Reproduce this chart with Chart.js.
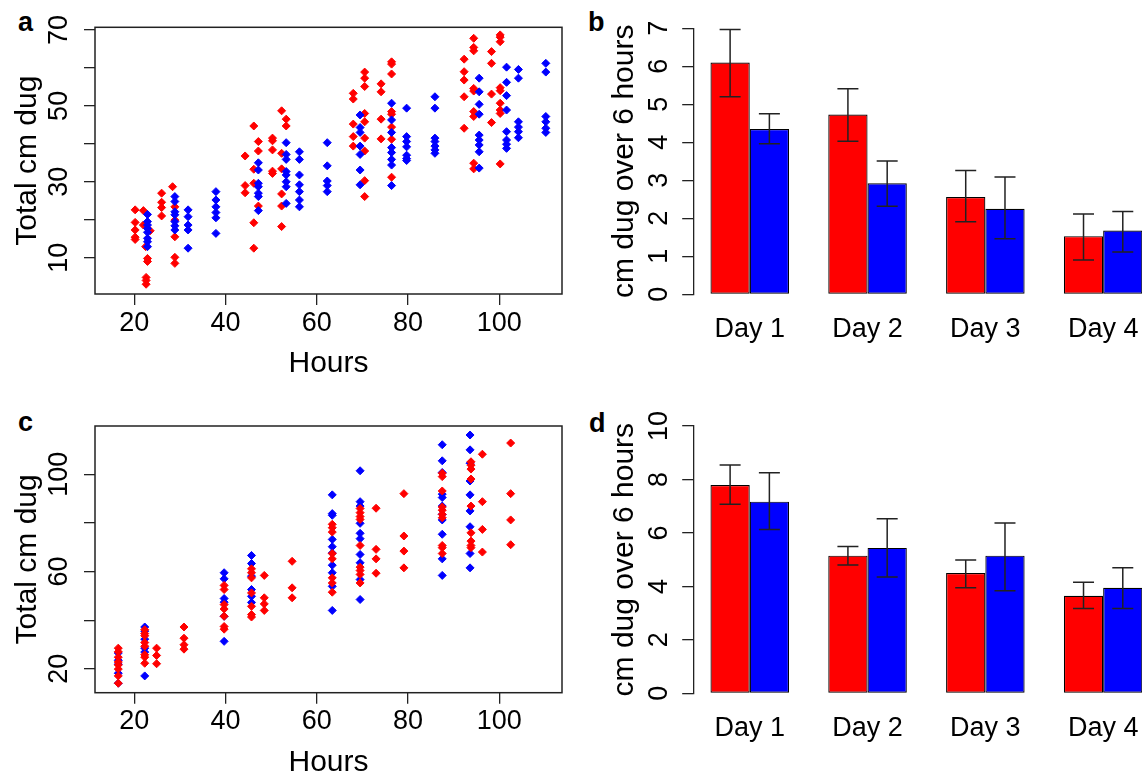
<!DOCTYPE html>
<html>
<head>
<meta charset="utf-8">
<title>Digging rates</title>
<script src="https://cdn.jsdelivr.net/npm/chart.js@4.4.1/dist/chart.umd.min.js"></script>
<style>
  html, body { margin: 0; padding: 0; background: #fff; overflow: hidden; }
  body { width: 1142px; height: 778px; position: relative; }
  canvas { position: absolute; }
  .tag { position: absolute; font: bold 27px "Liberation Sans", Arial, sans-serif; line-height: 27px; color: #000; }
</style>
</head>
<body>
<div class="tag" style="left:18px;top:9px">a</div>
<div class="tag" style="left:588px;top:9px">b</div>
<div class="tag" style="left:18px;top:409px">c</div>
<div class="tag" style="left:589px;top:410px">d</div>
<canvas id="chartA" width="580" height="389" style="left:0;top:0"></canvas>
<canvas id="chartB" width="600" height="389" style="left:580px;top:0"></canvas>
<canvas id="chartC" width="580" height="389" style="left:0;top:389px"></canvas>
<canvas id="chartD" width="600" height="389" style="left:580px;top:389px"></canvas>
<script>
const RED = '#ff0000';
const BLUE = '#0000ff';
const INK = '#222';

// panel a: cumulative digging, red group
const aRedHours = [
  20.2, 20.2, 20.2, 20.2, 20.2, 22.0, 22.0, 22.5, 22.9, 22.9, 22.6, 22.6, 22.6, 23.5,
  26.0, 26.0, 26.0, 26.0, 28.4, 28.9, 28.9, 28.9, 28.9, 28.9,
  44.3, 44.3, 44.3, 46.2, 46.2, 46.2, 46.2, 46.2, 47.2, 47.2, 47.2,
  50.3, 50.3, 50.3, 50.3, 50.3, 52.3, 52.3, 52.3, 52.3, 52.3, 52.3, 53.3, 53.3,
  68.0, 68.0, 68.0, 68.0, 68.0, 70.5, 70.5, 70.5, 70.5, 70.5, 70.5, 70.5, 70.5, 70.5,
  74.1, 74.1, 74.1, 74.1, 76.4, 76.4, 76.4, 76.4, 76.4, 76.4, 76.4, 76.4,
  92.3, 92.3, 92.3, 92.3, 92.3, 94.4, 94.4, 94.4, 94.4, 94.4, 94.4, 94.4, 94.4, 94.4,
  98.3, 98.3, 98.3, 98.3, 100.2, 100.2, 100.2, 100.2, 100.2, 100.2, 100.2, 100.2, 100.2
];
const aRedDug = [
  22.6, 19.3, 17.3, 15.4, 14.8, 22.4, 18.6, 12.9, 9.8, 9.0, 4.8, 4.0, 3.0, 17.1,
  27.0, 24.6, 23.2, 21.0, 28.7, 23.4, 19.9, 15.5, 10.1, 8.5,
  36.8, 29.0, 27.1, 44.7, 33.3, 29.6, 19.2, 12.5, 40.6, 38.1, 23.6,
  41.5, 40.8, 38.4, 32.8, 32.2, 48.7, 37.5, 33.4, 26.8, 23.6, 18.2, 46.5, 44.7,
  53.3, 51.8, 45.2, 41.9, 39.4, 58.9, 57.3, 55.1, 48.0, 45.8, 41.5, 38.1, 30.3, 26.1,
  55.8, 53.7, 46.5, 41.3, 61.6, 61.0, 58.4, 48.5, 47.8, 44.4, 41.2, 31.2,
  62.3, 59.0, 56.8, 52.4, 44.1, 67.8, 65.4, 64.5, 54.6, 53.9, 48.5, 47.2, 34.9, 33.4,
  64.3, 61.2, 53.1, 45.6, 68.7, 68.1, 66.9, 54.8, 54.0, 50.7, 48.9, 48.0, 34.7
];

// panel a: cumulative digging, blue group
const aBlueHours = [
  22.9, 22.9, 22.9, 22.9, 22.9, 22.9, 22.9, 22.9,
  28.9, 28.9, 28.9, 28.9, 28.9, 28.9, 28.9,
  31.8, 31.8, 31.8, 31.8, 31.8, 37.9, 37.9, 37.9, 37.9, 37.9, 37.9,
  47.2, 47.2, 47.2, 47.2, 47.2, 47.2, 47.2,
  53.3, 53.3, 53.3, 53.3, 53.3, 53.3, 53.3, 53.3,
  56.2, 56.2, 56.2, 56.2, 56.2, 56.2, 56.2, 62.3, 62.3, 62.3, 62.3, 62.3,
  69.5, 69.5, 69.5, 69.5, 69.5, 69.5, 69.5,
  76.4, 76.4, 76.4, 76.4, 76.4, 76.4, 76.4, 76.4,
  79.7, 79.7, 79.7, 79.7, 79.7, 79.7, 79.7, 85.9, 85.9, 85.9, 85.9, 85.9, 85.9, 85.9,
  95.6, 95.6, 95.6, 95.6, 95.6, 95.6, 95.6, 95.6, 95.6,
  101.6, 101.6, 101.6, 101.6, 101.6, 101.6, 101.6, 101.6,
  104.2, 104.2, 104.2, 104.2, 104.2, 104.2, 110.2, 110.2, 110.2, 110.2, 110.2, 110.2
];
const aBlueDug = [
  21.4, 19.5, 18.6, 17.7, 16.7, 15.1, 14.2, 12.9,
  26.1, 24.8, 22.1, 21.3, 19.5, 18.4, 17.3,
  22.6, 20.8, 18.6, 17.3, 12.5, 27.4, 25.2, 23.4, 21.9, 20.5, 16.4,
  35.0, 33.1, 29.6, 28.7, 27.0, 26.1, 22.4,
  40.3, 37.2, 35.9, 32.7, 31.8, 30.0, 28.7, 24.3,
  37.9, 35.9, 31.8, 29.2, 27.4, 25.2, 23.4, 40.3, 34.2, 30.2, 29.0, 27.4,
  47.6, 44.3, 43.0, 39.4, 37.2, 33.1, 29.2,
  50.7, 46.3, 43.0, 39.0, 37.7, 35.9, 34.4, 29.0,
  49.4, 41.9, 40.6, 39.2, 37.0, 36.1, 35.6, 52.4, 49.4, 41.5, 40.6, 39.4, 38.4, 37.5,
  57.3, 53.7, 50.4, 47.8, 42.3, 41.0, 39.7, 37.9, 33.6,
  60.2, 56.2, 52.7, 48.9, 43.2, 41.0, 39.9, 38.8,
  59.6, 57.3, 45.8, 44.4, 43.2, 41.6, 61.2, 58.9, 47.2, 45.8, 44.1, 43.0
];

// panel c: cumulative digging, red group
const cRedHours = [
  16.5, 16.5, 16.5, 16.5, 16.5, 16.5, 16.5, 16.5,
  22.3, 22.3, 22.3, 22.3, 22.3, 22.3, 22.3, 22.3,
  24.9, 24.9, 24.9, 30.9, 30.9, 30.9, 30.9,
  39.7, 39.7, 39.7, 39.7, 39.7, 39.7, 39.7, 45.7, 45.7, 45.7, 45.7, 45.7, 45.7, 45.7,
  48.5, 48.5, 48.5, 48.5, 54.6, 54.6, 54.6,
  63.4, 63.4, 63.4, 63.4, 63.4, 63.4, 63.4, 63.4,
  69.5, 69.5, 69.5, 69.5, 69.5, 69.5, 69.5, 69.5, 69.5,
  73.0, 73.0, 73.0, 73.0, 79.1, 79.1, 79.1, 79.1,
  87.5, 87.5, 87.5, 87.5, 87.5, 87.5, 87.5, 87.5, 87.5, 87.5,
  93.8, 93.8, 93.8, 93.8, 93.8, 93.8, 93.8, 93.8, 93.8,
  96.3, 96.3, 96.3, 96.3, 102.5, 102.5, 102.5, 102.5
];
const cRedDug = [
  28.5, 27.0, 24.8, 22.8, 21.6, 19.9, 17.1, 14.1,
  36.1, 34.5, 33.6, 30.8, 29.3, 25.8, 24.8, 22.3,
  28.5, 25.5, 22.1, 37.2, 32.6, 29.9, 28.1,
  54.3, 52.6, 46.4, 44.6, 41.6, 37.4, 36.3, 61.1, 59.5, 57.4, 51.2, 45.7, 42.3, 41.3,
  58.4, 49.2, 46.7, 44.0, 64.2, 53.3, 49.2,
  79.4, 78.0, 76.2, 67.4, 65.2, 57.4, 55.3, 51.5,
  85.9, 84.2, 82.6, 81.4, 70.7, 61.8, 60.4, 58.8, 55.3,
  86.0, 69.1, 65.2, 59.3, 92.0, 74.6, 68.4, 61.5,
  100.4, 99.0, 93.1, 86.5, 85.2, 83.5, 82.1, 70.7, 69.8, 67.4,
  105.1, 103.7, 102.1, 98.0, 86.9, 75.9, 72.5, 70.7, 69.8,
  108.2, 88.7, 77.3, 68.0, 112.8, 92.0, 81.2, 71.0
];

// panel c: cumulative digging, blue group
const cBlueHours = [
  16.5, 16.5, 16.5, 16.5, 16.5, 22.3, 22.3, 22.3, 22.3, 22.3, 22.3,
  39.7, 39.7, 39.7, 39.7, 39.7, 39.7, 45.7, 45.7, 45.7, 45.7, 45.7, 45.7,
  63.4, 63.4, 63.4, 63.4, 63.4, 63.4, 63.4, 63.4, 63.4, 63.4,
  69.5, 69.5, 69.5, 69.5, 69.5, 69.5, 69.5, 69.5, 69.5, 69.5,
  87.5, 87.5, 87.5, 87.5, 87.5, 87.5, 87.5, 87.5, 87.5, 87.5, 87.5,
  93.6, 93.6, 93.6, 93.6, 93.6, 93.6, 93.6, 93.6, 93.6
];
const cBlueDug = [
  26.5, 23.5, 21.9, 18.2, 14.1, 37.2, 35.5, 32.2, 28.5, 26.9, 17.1,
  59.5, 57.0, 48.9, 47.4, 41.6, 31.3, 66.6, 63.3, 58.1, 52.6, 49.8, 47.3,
  91.5, 83.8, 83.1, 73.2, 70.2, 67.6, 62.6, 59.5, 53.9, 44.0,
  101.4, 88.7, 86.9, 79.8, 75.7, 73.5, 67.0, 63.6, 56.7, 48.5,
  112.1, 105.5, 100.7, 91.8, 90.4, 86.9, 83.5, 81.2, 75.3, 65.2, 58.4,
  116.1, 110.0, 104.5, 97.2, 91.5, 84.9, 78.4, 67.4, 61.5
];

// daily rates (mean with error range)
const days = ['Day 1', 'Day 2', 'Day 3', 'Day 4'];
const bRed = [6.10, 4.73, 2.56, 1.53];
const bRedLow = [5.20, 4.03, 1.91, 0.90];
const bRedHigh = [6.97, 5.41, 3.26, 2.11];
const bBlue = [4.35, 2.92, 2.25, 1.68];
const bBlueLow = [3.96, 2.32, 1.46, 1.11];
const bBlueHigh = [4.75, 3.51, 3.09, 2.18];
const dRed = [7.79, 5.15, 4.50, 3.65];
const dRedLow = [7.07, 4.80, 3.95, 3.17];
const dRedHigh = [8.54, 5.49, 4.99, 4.15];
const dBlue = [7.17, 5.44, 5.15, 3.95];
const dBlueLow = [6.13, 4.35, 3.84, 3.17];
const dBlueHigh = [8.25, 6.53, 6.37, 4.70];

Chart.defaults.font.family = '"Liberation Sans", Arial, sans-serif';
Chart.defaults.font.size = 27;
Chart.defaults.color = '#000';

// frame round the scatter plot region
const plotBox = {
  id: 'plotBox',
  afterDraw(chart) {
    const { ctx, chartArea: a } = chart;
    ctx.save();
    ctx.strokeStyle = INK;
    ctx.lineWidth = 1.5;
    ctx.strokeRect(a.left, a.top, a.right - a.left, a.bottom - a.top);
    ctx.restore();
  }
};

// whiskers with caps, read from errLow / errHigh on each dataset
const errorBars = {
  id: 'errorBars',
  afterDatasetsDraw(chart) {
    const { ctx } = chart;
    const y = chart.scales.y;
    ctx.save();
    ctx.strokeStyle = INK;
    ctx.lineWidth = 1.5;
    chart.data.datasets.forEach((ds, i) => {
      chart.getDatasetMeta(i).data.forEach((bar, j) => {
        const top = y.getPixelForValue(ds.errHigh[j]);
        const bottom = y.getPixelForValue(ds.errLow[j]);
        ctx.beginPath();
        ctx.moveTo(bar.x, top);
        ctx.lineTo(bar.x, bottom);
        ctx.moveTo(bar.x - 10.5, top);
        ctx.lineTo(bar.x + 10.5, top);
        ctx.moveTo(bar.x - 10.5, bottom);
        ctx.lineTo(bar.x + 10.5, bottom);
        ctx.stroke();
      });
    });
    ctx.restore();
  }
};

function points(hours, dug) {
  return hours.map((h, i) => ({ x: h, y: dug[i] }));
}

function scatterPanel(id, series, opt) {
  return new Chart(document.getElementById(id), {
    type: 'scatter',
    data: {
      datasets: series.map(s => ({
        data: points(s.hours, s.dug),
        backgroundColor: s.color,
        borderColor: s.color,
        borderWidth: 1,
        pointStyle: 'rectRot',
        pointRadius: 4
      }))
    },
    options: {
      responsive: false,
      animation: false,
      devicePixelRatio: 1,
      events: [],
      layout: { padding: { left: 0, top: opt.top, right: 18, bottom: opt.bottom } },
      plugins: { legend: { display: false }, tooltip: { enabled: false } },
      scales: {
        x: {
          type: 'linear',
          min: 11.4,
          max: 113.75,
          afterFit: s => { s.height = opt.xHeight; s.paddingLeft = 0; s.paddingRight = 0; },
          ticks: { stepSize: 20, includeBounds: false, padding: 2, autoSkip: false },
          grid: { drawOnChartArea: false, tickLength: 11, color: INK, lineWidth: 1.3 },
          border: { display: false },
          title: { display: true, text: 'Hours', font: { size: 30, lineHeight: 1 }, padding: { top: 0, bottom: opt.titlePad } }
        },
        y: {
          type: 'linear',
          min: opt.yMin,
          max: opt.yMax,
          afterFit: s => { s.width = 95; s.paddingTop = 0; s.paddingBottom = 0; },
          ticks: {
            stepSize: opt.yStep,
            includeBounds: false,
            autoSkip: false,
            minRotation: 90,
            maxRotation: 90,
            crossAlign: 'center',
            padding: opt.yPad,
            callback: v => opt.yLabels.includes(v) ? String(v) : ''
          },
          grid: { drawOnChartArea: false, tickLength: 11, color: INK, lineWidth: 1.3 },
          border: { display: false },
          title: { display: true, text: 'Total cm dug', font: { size: 30, lineHeight: 1 }, padding: { top: 12.5, bottom: 0 } }
        }
      }
    },
    plugins: [plotBox]
  });
}

function barPanel(id, red, blue, opt) {
  const bars = (vals, low, high, color) => ({
    data: vals.map((v, i) => ({ x: i, y: v })),
    errLow: low,
    errHigh: high,
    backgroundColor: color,
    borderColor: '#000',
    borderWidth: 1.2,
    borderSkipped: false,
    categoryPercentage: 2 / 3,
    barPercentage: 1
  });
  return new Chart(document.getElementById(id), {
    type: 'bar',
    data: {
      datasets: [
        bars(red.vals, red.low, red.high, RED),
        bars(blue.vals, blue.low, blue.high, BLUE)
      ]
    },
    options: {
      responsive: false,
      animation: false,
      devicePixelRatio: 1,
      events: [],
      layout: { padding: { left: 0, top: opt.top, right: 20.3, bottom: opt.bottom } },
      plugins: { legend: { display: false }, tooltip: { enabled: false } },
      scales: {
        x: {
          type: 'linear',
          offset: false,
          min: -0.48,
          max: 3.48,
          afterFit: s => { s.height = 60; s.paddingLeft = 0; s.paddingRight = 0; },
          ticks: { stepSize: 1, includeBounds: false, autoSkip: false, padding: 10.8, callback: v => days[v] },
          grid: { display: false, offset: false },
          border: { display: false }
        },
        y: {
          min: 0,
          max: opt.yMax,
          afterFit: s => { s.width = 113.2; s.paddingTop = 0; s.paddingBottom = 0; },
          ticks: {
            stepSize: opt.yStep,
            autoSkip: false,
            minRotation: 90,
            maxRotation: 90,
            crossAlign: 'center',
            padding: opt.yPad
          },
          grid: { drawOnChartArea: false, tickLength: 11, color: INK, lineWidth: 1.3 },
          border: { display: true, color: INK, width: 1.3 },
          title: { display: true, text: 'cm dug over 6 hours', font: { size: 30, lineHeight: 1 }, padding: { top: 30, bottom: 0 } }
        }
      }
    },
    plugins: [errorBars]
  });
}

scatterPanel('chartA', [
  { hours: aBlueHours, dug: aBlueDug, color: BLUE },
  { hours: aRedHours, dug: aRedDug, color: RED }
], { top: 27.3, bottom: 5, xHeight: 90, titlePad: 5.7, yMin: 0.43, yMax: 70.7, yStep: 10, yLabels: [10, 30, 50, 70], yPad: 9 });

scatterPanel('chartC', [
  { hours: cRedHours, dug: cRedDug, color: RED },
  { hours: cBlueHours, dug: cBlueDug, color: BLUE }
], { top: 37, bottom: 0, xHeight: 85.3, titlePad: 0, yMin: 10.2, yMax: 119.8, yStep: 20, yLabels: [20, 60, 100], yPad: 1.5 });

barPanel('chartB',
  { vals: bRed, low: bRedLow, high: bRedHigh },
  { vals: bBlue, low: bBlueLow, high: bBlueHigh },
  { top: 28.3, bottom: 34.7, yMax: 7, yStep: 1, yPad: 14.7 });

barPanel('chartD',
  { vals: dRed, low: dRedLow, high: dRedHigh },
  { vals: dBlue, low: dBlueLow, high: dBlueHigh },
  { top: 37, bottom: 24.7, yMax: 10, yStep: 2, yPad: 7.2 });
</script>
</body>
</html>
